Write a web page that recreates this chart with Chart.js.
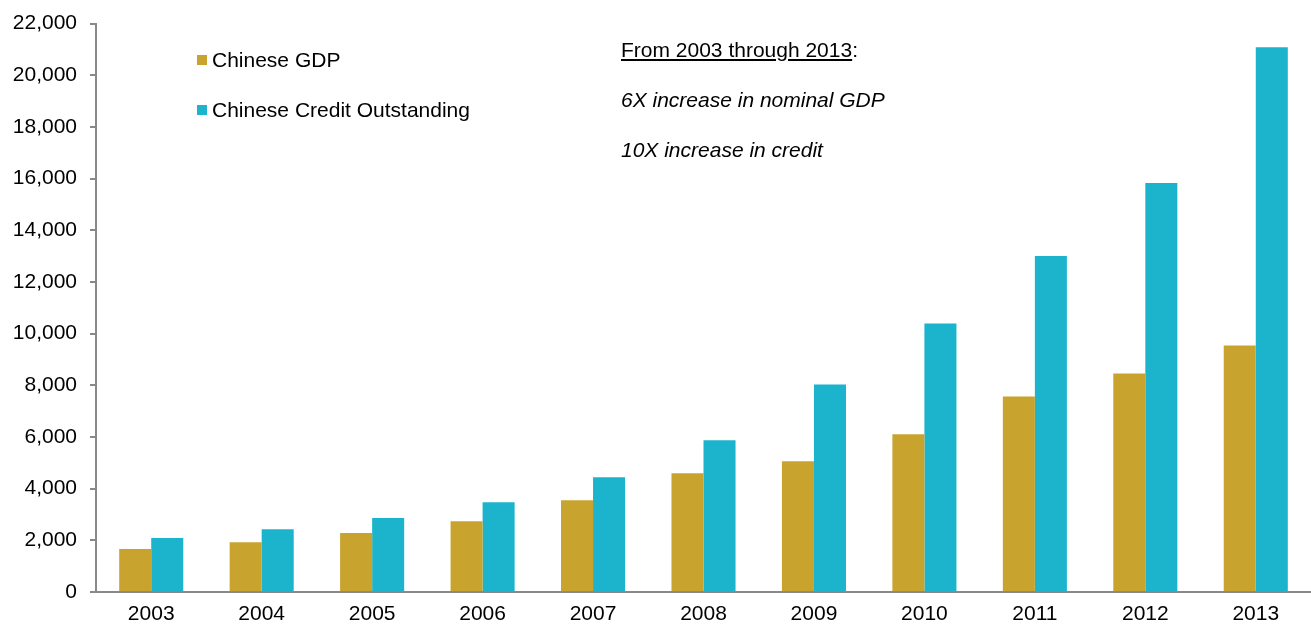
<!DOCTYPE html>
<html>
<head>
<meta charset="utf-8">
<script src="https://cdn.jsdelivr.net/npm/chart.js@4.4.1/dist/chart.umd.min.js"></script>
<style>
  html, body { margin: 0; padding: 0; background: #fff; }
  #wrap { position: relative; width: 1311px; height: 626px; font-family: "Liberation Sans", Arial, sans-serif; }
  canvas { position: absolute; left: 0; top: 0; }
  .legend { position: absolute; left: 197px; font-size: 21px; line-height: 24px; color: #000; white-space: nowrap; }
  .legend span.sw { display: inline-block; width: 10px; height: 10px; margin-right: 5px; vertical-align: 2px; }
  .note { position: absolute; left: 621px; font-size: 21px; line-height: 24px; color: #000; white-space: nowrap; }
</style>
</head>
<body>
<div id="wrap">
  <canvas id="chart" width="1311" height="626"></canvas>
  <div class="legend" style="top:48px"><span class="sw" style="background:#C8A42E"></span>Chinese GDP</div>
  <div class="legend" style="top:98px"><span class="sw" style="background:#1BB4CC"></span>Chinese Credit Outstanding</div>
  <div class="note" style="top:38px"><u>From 2003 through 2013</u>:</div>
  <div class="note" style="top:88px"><i>6X increase in nominal GDP</i></div>
  <div class="note" style="top:138px"><i>10X increase in credit</i></div>
</div>
<script>
// datos (aprox.)
const years = ['2003', '2004', '2005', '2006', '2007', '2008', '2009', '2010', '2011', '2012', '2013'];
const gdp = [1660, 1930, 2280, 2740, 3550, 4600, 5060, 6100, 7570, 8460, 9540];
const credit = [2085, 2430, 2860, 3470, 4440, 5870, 8030, 10390, 13000, 15830, 21080];

const ctx = document.getElementById('chart');

new Chart(ctx, {
    type: 'bar',
    data: {
        labels: years,
        datasets: [
            {
                label: 'Chinese GDP',
                data: gdp,
                backgroundColor: '#C8A42E',
                barPercentage: 1,
                categoryPercentage: 0.58
            },
            {
                label: 'Chinese Credit Outstanding',
                data: credit,
                backgroundColor: '#1BB4CC',
                barPercentage: 1,
                categoryPercentage: 0.58
            }
        ]
    },
    options: {
        responsive: false,
        animation: false,
        layout: {
            padding: { top: 0, right: 0, bottom: 0, left: 0 }
        },
        plugins: {
            legend: { display: false }, // leyenda en HTML
            tooltip: { enabled: false }
        },
        scales: {
            y: {
                min: 0,
                max: 22000,
                afterFit: function(scale) { scale.width = 96; },
                border: { display: true, color: '#898989', width: 2 },
                grid: {
                    drawOnChartArea: false,
                    color: '#898989',
                    lineWidth: 2,
                    tickLength: 6
                },
                ticks: {
                    stepSize: 2000,
                    padding: 13,
                    color: '#000',
                    font: { family: 'Liberation Sans', size: 21, lineHeight: 1 },
                    callback: function(value) {
                        return value.toLocaleString('en-US');
                    }
                }
            },
            x: {
                afterFit: function(scale) { scale.height = 34; },
                border: { display: true, color: '#898989', width: 2 },
                grid: { display: false, drawTicks: false },
                ticks: {
                    padding: 10,
                    color: '#000',
                    font: { family: 'Liberation Sans', size: 21 }
                }
            }
        }
    }
});
</script>
</body>
</html>
